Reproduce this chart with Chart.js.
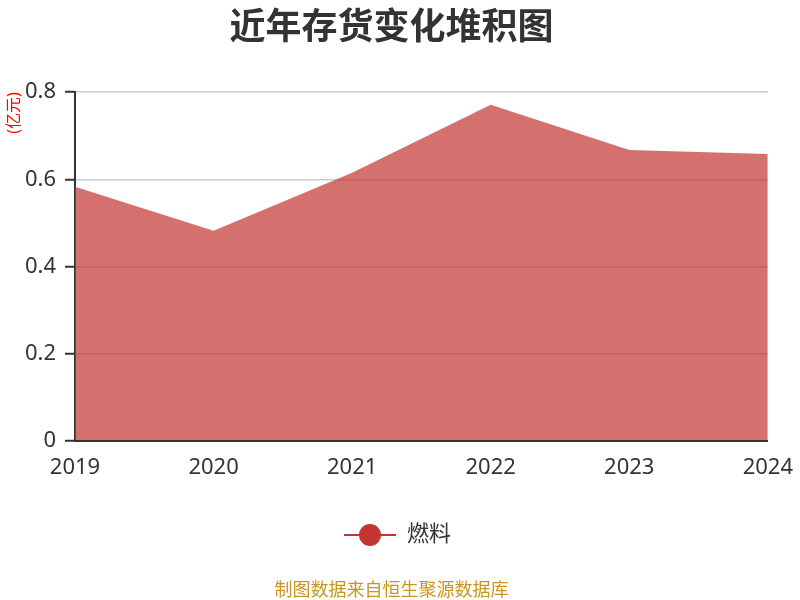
<!DOCTYPE html>
<html lang="zh">
<head>
<meta charset="UTF-8">
<title>近年存货变化堆积图</title>
<script src="https://cdn.jsdelivr.net/npm/chart.js@4.4.1/dist/chart.umd.min.js"></script>
<style>
    html, body { margin: 0; padding: 0; background: #fff; }
    #wrap { width: 800px; height: 600px; }
</style>
</head>
<body>
<div id="wrap"><canvas id="c"></canvas></div>
<script>
    // データ
    const years = ['2019', '2020', '2021', '2022', '2023', '2024'];
    const fuel = [0.583, 0.482, 0.615, 0.771, 0.667, 0.658];
    const seriesName = '燃料';
    const yTicks = [0, 0.2, 0.4, 0.6, 0.8];

    const FONT = '"Noto Sans", "Noto Sans CJK SC", sans-serif';

    // 凡例マーカー（線＋丸）、左に少し余白
    function legendMarker() {
        const cv = document.createElement('canvas');
        cv.width = 64; cv.height = 24;
        const g = cv.getContext('2d');
        g.strokeStyle = '#c23531'; g.lineWidth = 2;
        g.beginPath(); g.moveTo(12, 12); g.lineTo(64, 12); g.stroke();
        g.fillStyle = '#c23531';
        g.beginPath(); g.arc(38, 12, 11, 0, Math.PI * 2); g.fill();
        return cv;
    }

    new Chart(document.getElementById('c'), {
        type: 'line',
        data: {
            labels: years,
            datasets: [{
                label: seriesName,
                data: fuel,
                fill: 'origin',
                backgroundColor: 'rgba(194, 53, 49, 0.7)',
                borderWidth: 0,
                pointRadius: 0,
                tension: 0
            }]
        },
        options: {
            responsive: true, maintainAspectRatio: false,
            animation: false,
            layout: { padding: { left: 0, right: 17, top: 0, bottom: 0 } },
            scales: {
                x: {
                    offset: false,
                    grid: { display: false, drawOnChartArea: false, tickLength: 7, tickColor: '#333', tickWidth: 2 },
                    border: { color: '#333', width: 2 },
                    ticks: { color: '#333', font: { family: FONT, size: 22 }, padding: 7, maxRotation: 0, autoSkip: false }
                },
                y: {
                    min: 0, max: 0.8,
                    afterBuildTicks: axis => { axis.ticks = yTicks.map(v => ({ value: v })); },
                    afterFit: axis => { axis.width = 75; },
                    grid: { color: '#ccc', lineWidth: 1.5, tickLength: 10, tickColor: '#333', tickWidth: 2 },
                    border: { color: '#333', width: 2 },
                    ticks: { color: '#333', font: { family: FONT, size: 22 }, padding: 9,
                        callback: v => v === 0 ? '0' : v.toFixed(1) },
                    title: { display: true, text: '(亿元)', color: '#ff0000', align: 'end',
                        font: { family: FONT, size: 16 }, padding: { top: 5, bottom: 2 } }
                }
            },
            plugins: {
                title: {
                    display: true, text: '近年存货变化堆积图', color: '#333',
                    font: { family: FONT, size: 36, weight: 'bold' },
                    padding: { top: 7, bottom: 42 }
                },
                legend: {
                    position: 'bottom',
                    labels: {
                        color: '#333', font: { family: FONT, size: 22 },
                        usePointStyle: true, pointStyleWidth: 64, padding: 36,
                        generateLabels: chart => [{
                            text: seriesName, fontColor: '#333',
                            pointStyle: legendMarker(), hidden: false, datasetIndex: 0, lineWidth: 0
                        }]
                    }
                },
                subtitle: {
                    display: true, position: 'bottom', text: '制图数据来自恒生聚源数据库',
                    color: '#c8961e', font: { family: FONT, size: 18, lineHeight: 1 },
                    padding: { top: 26, bottom: 0 }
                },
                tooltip: { enabled: false }
            }
        }
    });
</script>
</body>
</html>
